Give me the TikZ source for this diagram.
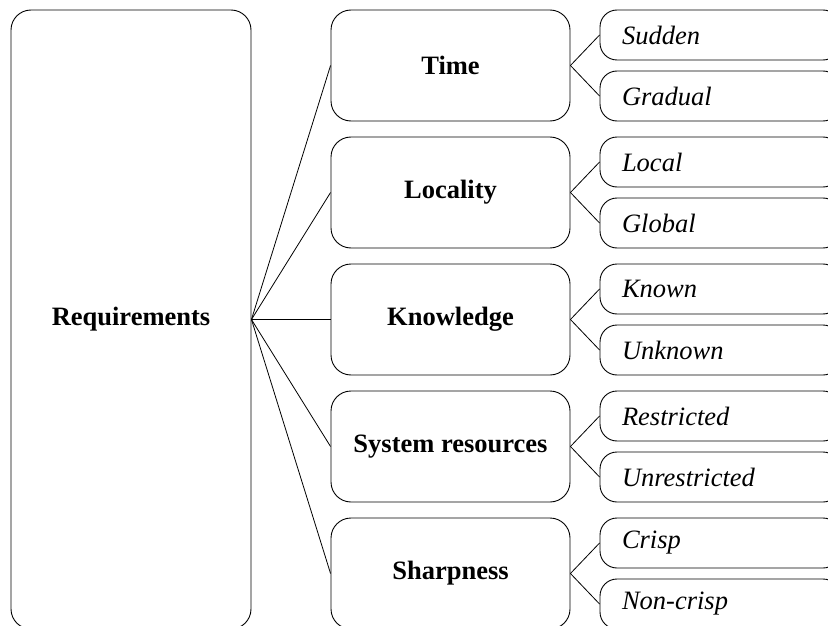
\documentclass[tikz,border=0pt]{standalone}
\usepackage{fontspec}
\setmainfont{Liberation Serif}
\begin{document}
\begin{tikzpicture}[x=1pt,y=-1pt,
  every node/.style={font=\fontsize{26.5}{30}\selectfont},
  rootbox/.style={draw, line width=0.9pt, rounded corners=20pt, minimum width=240pt, minimum height=619pt, inner sep=0pt, font=\fontsize{26.5}{30}\selectfont\bfseries},
  aspectbox/.style={draw, line width=0.9pt, rounded corners=20pt, minimum width=239pt, minimum height=111pt, inner sep=0pt, font=\fontsize{26.5}{30}\selectfont\bfseries},
  valuebox/.style={draw, line width=0.9pt, rounded corners=17pt, minimum width=240pt, minimum height=50pt, inner xsep=22pt, inner ysep=0pt, text width=196pt, align=left, font=\fontsize{26.5}{30}\selectfont\itshape},
  link/.style={line width=0.8pt}]
\useasboundingbox (0,0) rectangle (828,626);
\clip (0,0) rectangle (828,626);

% root
\node[rootbox] (req) at (131,319.5) {Requirements};

% aspects
\node[aspectbox] (time) at (450.5,65.5)  {Time};
\node[aspectbox] (loc)  at (450.5,192.5) {Locality};
\node[aspectbox] (know) at (450.5,319.5) {Knowledge};
\node[aspectbox] (res)  at (450.5,446.5) {System resources};
\node[aspectbox] (sharp) at (450.5,573.5) {Sharpness};

% values
\node[valuebox] (sud)  at (720,35)  {Sudden};
\node[valuebox] (grad) at (720,96)  {Gradual};
\node[valuebox] (lcl)  at (720,162) {Local};
\node[valuebox] (glb)  at (720,223) {Global};
\node[valuebox] (kn)   at (720,289) {Known};
\node[valuebox] (unk)  at (720,350) {Unknown};
\node[valuebox] (rst)  at (720,416) {Restricted};
\node[valuebox] (unr)  at (720,477) {Unrestricted};
\node[valuebox] (crs)  at (720,543) {Crisp};
\node[valuebox] (ncr)  at (720,604) {Non-crisp};

% connectors
\foreach \a in {time,loc,know,res,sharp}
  \draw[link] (req.east) -- (\a.west);
\foreach \a/\u/\l in {time/sud/grad, loc/lcl/glb, know/kn/unk, res/rst/unr, sharp/crs/ncr}{
  \draw[link] (\a.east) -- (\u.west);
  \draw[link] (\a.east) -- (\l.west);
}
\end{tikzpicture}
\end{document}
